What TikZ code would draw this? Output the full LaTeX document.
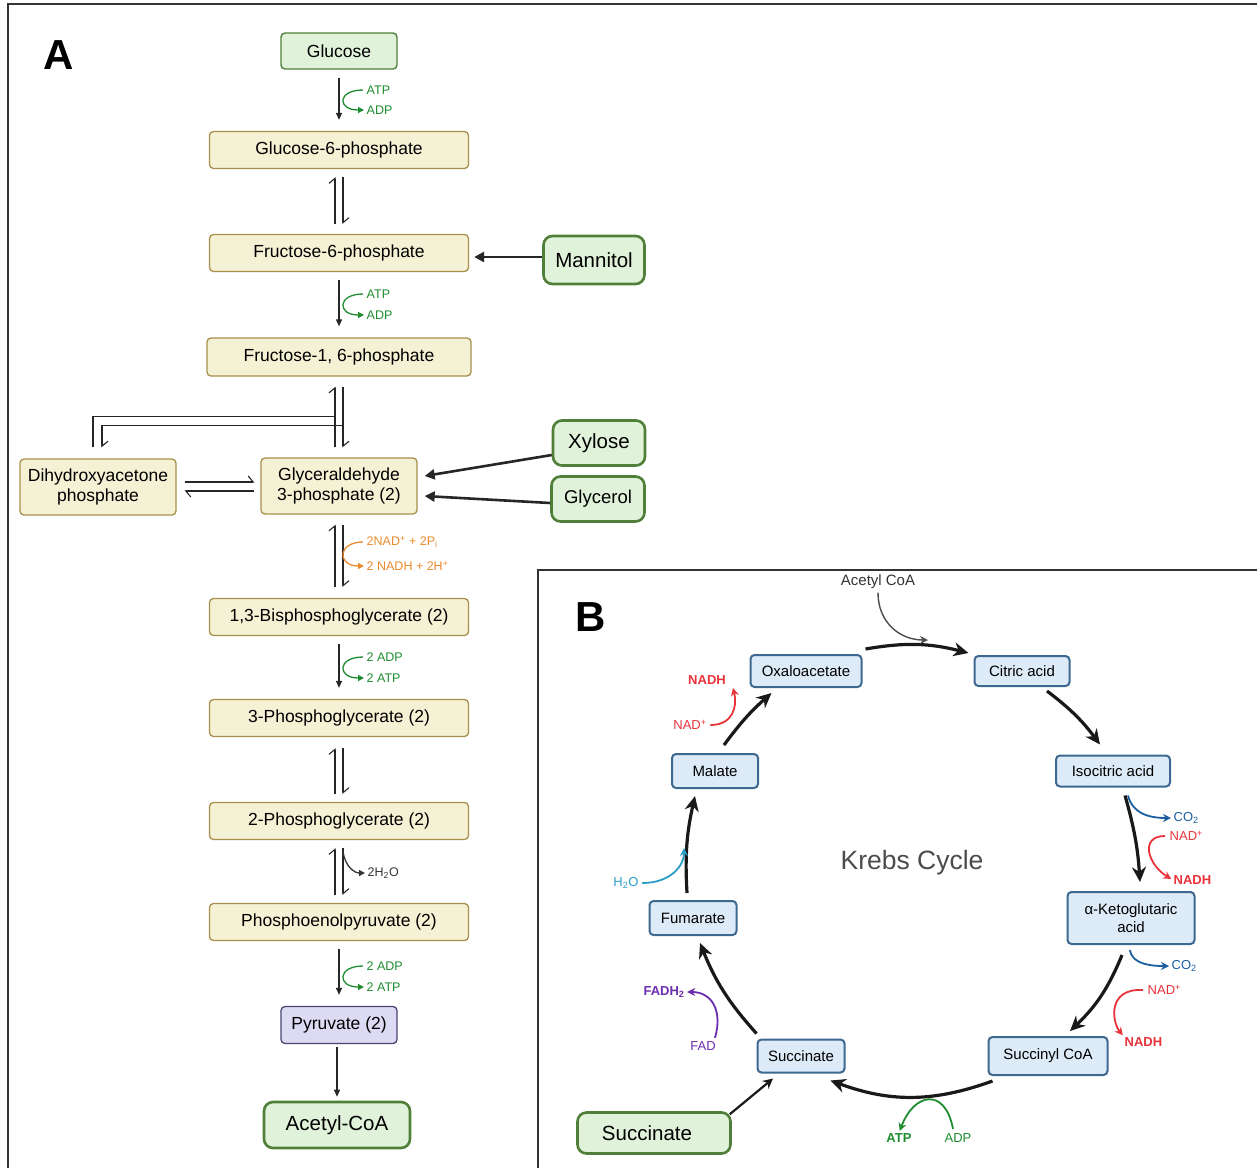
\documentclass[tikz,border=0pt]{standalone}
\usepackage{fontspec}
\setmainfont{Liberation Sans}
\usepackage{xcolor}
\usetikzlibrary{arrows.meta}

\definecolor{gfill}{HTML}{E0F2DA}
\definecolor{gline}{HTML}{4F7F38}
\definecolor{yfill}{HTML}{F5F1D4}
\definecolor{yline}{HTML}{A8904C}
\definecolor{pfill}{HTML}{DDDBF3}
\definecolor{pline}{HTML}{4A4470}
\definecolor{bfill}{HTML}{DDEAF7}
\definecolor{bline}{HTML}{3D6890}
\definecolor{atpgreen}{HTML}{1E8C2F}
\definecolor{nadorange}{HTML}{EA8A2C}
\definecolor{nadred}{HTML}{E8333B}
\definecolor{coblue}{HTML}{1B5EA0}
\definecolor{waterteal}{HTML}{2A9CC5}
\definecolor{fadpurple}{HTML}{6B2EAE}
\definecolor{framegray}{HTML}{333333}

\tikzset{
  box/.style={rounded corners=4pt, inner sep=0pt, align=center, font=\fontsize{17.5}{20}\selectfont},
  glcbox/.style={box, fill=gfill, draw=gline, line width=1.4pt},
  sugbox/.style={box, fill=gfill, draw=gline, line width=2.6pt, rounded corners=9pt, font=\fontsize{20.5}{24}\selectfont},
  intbox/.style={box, fill=yfill, draw=yline, line width=1.3pt, minimum width=259pt, minimum height=37pt},
  pyrbox/.style={box, fill=pfill, draw=pline, line width=1.3pt},
  krebsbox/.style={box, fill=bfill, draw=bline, line width=2pt, font=\fontsize{15}{18}\selectfont},
  cof/.style={inner sep=0.5pt, anchor=west, font=\fontsize{12.5}{14}\selectfont},
  kcof/.style={inner sep=0.5pt, font=\fontsize{13}{15}\selectfont},
  rxn/.style={draw=black!85, line width=1.1pt, -{Triangle[length=7pt,width=6pt]}, shorten <=8pt, shorten >=11pt},
  eqarr/.style={draw=black!85, line width=1.1pt, -{Straight Barb[harpoon,length=5pt,width=12pt]}},
  cofarr/.style={line width=1.3pt, -{Triangle[length=6pt,width=6pt]}, shorten <=3pt, shorten >=2pt},
  feed/.style={draw=black!85, line width=2.6pt, -{Triangle[length=10pt,width=10pt]}},
  cyc/.style={draw=black!90, line width=3.2pt, -{Stealth[length=15pt,width=14pt]}},
  kside/.style={line width=1.8pt, -{Stealth[length=8pt,width=8pt]}, shorten >=2pt},
  panel/.style={font=\fontsize{42}{44}\selectfont\bfseries}
}

\begin{document}
\begin{tikzpicture}[x=1pt, y=-1pt]
    \useasboundingbox (0,0) rectangle (1257,1168);

    % Frames
    \draw[framegray, line width=1.5pt] (1257,4) -- (8,4) -- (8,1168);
    \draw[framegray, line width=1.5pt] (1257,570) -- (538,570) -- (538,1168);

    % Glycolysis
    \node[panel] (labA) at (59,55) {A};
    \node[glcbox, minimum width=116pt, minimum height=36pt] (glc) at (339,51) {Glucose};
    \node[intbox] (g6p) at (339,150) {Glucose-6-phosphate};
    \node[intbox] (f6p) at (339,253) {Fructose-6-phosphate};
    \node[sugbox, minimum width=101pt, minimum height=48pt] (man) at (594,260) {Mannitol};
    \node[intbox, minimum width=264pt, minimum height=38pt] (fbp) at (339,357) {Fructose-1, 6-phosphate};
    \node[intbox, minimum width=156pt, minimum height=56pt] (dhap) at (98,487) {Dihydroxyacetone\\phosphate};
    \node[intbox, minimum width=156pt, minimum height=56pt] (gap) at (339,486) {Glyceraldehyde\\3-phosphate (2)};
    \node[sugbox, minimum width=92pt, minimum height=45pt] (xyl) at (599,443) {Xylose};
    \node[sugbox, minimum width=93pt, minimum height=45pt, font=\fontsize{18.5}{22}\selectfont] (gly) at (598,499) {Glycerol};
    \node[intbox] (bpg) at (339,617) {1,3-Bisphosphoglycerate (2)};
    \node[intbox] (pgc) at (339,718) {3-Phosphoglycerate (2)};
    \node[intbox] (pgb) at (339,821) {2-Phosphoglycerate (2)};
    \node[intbox] (pep) at (339,922) {Phosphoenolpyruvate (2)};
    \node[pyrbox, minimum width=116pt, minimum height=37pt] (pyr) at (339,1025) {Pyruvate (2)};
    \node[sugbox, minimum width=146pt, minimum height=46pt] (acoa) at (337,1125) {Acetyl-CoA};

    % cofactors, glycolysis
    \node[cof, text=atpgreen] (atpa) at (366,90) {ATP};
    \node[cof, text=atpgreen] (adpa) at (366,110) {ADP};
    \node[cof, text=atpgreen] (atpb) at (366,294) {ATP};
    \node[cof, text=atpgreen] (adpb) at (366,315) {ADP};
    \node[cof, text=nadorange] (nadp) at (366,542) {2NAD\textsuperscript{+} + 2P\textsubscript{i}};
    \node[cof, text=nadorange] (nadh) at (366,566) {2 NADH + 2H\textsuperscript{+}};
    \node[cof, text=atpgreen] (adpc) at (366,657) {2 ADP};
    \node[cof, text=atpgreen] (atpc) at (366,678) {2 ATP};
    \node[cof, text=black!80] (water) at (367,873) {2H\textsubscript{2}O};
    \node[cof, text=atpgreen] (adpd) at (366,966) {2 ADP};
    \node[cof, text=atpgreen] (atpd) at (366,987) {2 ATP};

    % one-way steps
    \draw[rxn] (glc) -- (g6p);
    \draw[rxn] (f6p) -- (fbp);
    \draw[rxn] (bpg) -- (pgc);
    \draw[rxn] (pep) -- (pyr);
    \draw[rxn, shorten <=3pt, shorten >=4pt] ([xshift=-2pt]pyr.south) -- (acoa.north);
    \draw[cofarr, atpgreen] (atpa.west) .. controls +(-29,0) and +(-29,0) .. (adpa.west);
    \draw[cofarr, atpgreen] (atpb.west) .. controls +(-29,0) and +(-29,0) .. (adpb.west);
    \draw[cofarr, atpgreen] (adpc.west) .. controls +(-29,0) and +(-29,0) .. (atpc.west);
    \draw[cofarr, atpgreen] (adpd.west) .. controls +(-29,0) and +(-29,0) .. (atpd.west);

    % reversible steps
    \draw[eqarr, shorten <=10pt, shorten >=8pt] ([xshift=-4pt]f6p.north) -- ([xshift=-4pt]g6p.south);
    \draw[eqarr, shorten <=8pt, shorten >=10pt] ([xshift=4pt]g6p.south) -- ([xshift=4pt]f6p.north);
    \draw[eqarr, shorten <=10pt, shorten >=10pt] ([xshift=-4pt]gap.north) -- ([xshift=-4pt]fbp.south);
    \draw[eqarr, shorten <=10pt, shorten >=10pt] ([xshift=4pt]fbp.south) -- ([xshift=4pt]gap.north);
    \draw[draw=black!85, line width=1.1pt] ([xshift=-5pt,yshift=11pt]dhap.north) |- ([xshift=-4pt,yshift=-40pt]fbp.south);
    \draw[eqarr] ([xshift=4pt,yshift=-49pt]fbp.south) -| ([xshift=4pt,yshift=11pt]dhap.north);
    \draw[eqarr, shorten <=8pt, shorten >=6pt] ([yshift=5pt]dhap.east) -- ([yshift=5pt]dhap.east -| gap.west);
    \draw[eqarr, shorten <=6pt, shorten >=8pt] ([yshift=-4pt]dhap.east -| gap.west) -- ([yshift=-4pt]dhap.east);
    \draw[eqarr, shorten <=11pt, shorten >=10pt] ([xshift=-4pt]bpg.north) -- ([xshift=-4pt]gap.south);
    \draw[eqarr, shorten <=10pt, shorten >=11pt] ([xshift=4pt]gap.south) -- ([xshift=4pt]bpg.north);
    \draw[cofarr, nadorange] (nadp.west) .. controls +(-29,0) and +(-29,0) .. (nadh.west);
    \draw[eqarr, shorten <=8pt, shorten >=11pt] ([xshift=-4pt]pgb.north) -- ([xshift=-4pt]pgc.south);
    \draw[eqarr, shorten <=11pt, shorten >=8pt] ([xshift=4pt]pgc.south) -- ([xshift=4pt]pgb.north);
    \draw[eqarr, shorten <=8pt, shorten >=8pt] ([xshift=-4pt]pep.north) -- ([xshift=-4pt]pgb.south);
    \draw[eqarr, shorten <=8pt, shorten >=8pt] ([xshift=4pt]pgb.south) -- ([xshift=4pt]pep.north);
    \draw[cofarr, black!80, shorten <=0pt] ([xshift=4pt,yshift=-11pt]pgb.south) .. controls +(2,16) and +(-12,0) .. (water.west);

    % feeding sugars
    \draw[feed, shorten >=5pt] ([yshift=3pt]man.west) -- ([yshift=3pt]man.west -| f6p.east);
    \draw[feed] ([yshift=-12pt]xyl.west) -- ([xshift=7pt,yshift=10pt]gap.east);
    \draw[feed] ([yshift=-4pt]gly.west) -- ([xshift=7pt,yshift=-10pt]gap.east);

    % Krebs cycle
    \node[panel] (labB) at (591,617) {B};
    \node[font=\fontsize{26.5}{30}\selectfont, text=black!70] (kc) at (912,863) {Krebs Cycle};
    \node[krebsbox, minimum width=111pt, minimum height=32pt] (oaa) at (806,671) {Oxaloacetate};
    \node[krebsbox, minimum width=95pt, minimum height=30pt] (cit) at (1022,671) {Citric acid};
    \node[krebsbox, minimum width=114pt, minimum height=31pt] (iso) at (1113,771) {Isocitric acid};
    \node[krebsbox, minimum width=127pt, minimum height=52pt] (akg) at (1131,918) {α-Ketoglutaric\\acid};
    \node[krebsbox, minimum width=119pt, minimum height=38pt] (sca) at (1048,1056) {Succinyl CoA};
    \node[krebsbox, minimum width=87pt, minimum height=33pt] (suc) at (801,1056) {Succinate};
    \node[krebsbox, minimum width=87pt, minimum height=34pt] (fum) at (693,918) {Fumarate};
    \node[krebsbox, minimum width=86pt, minimum height=34pt] (mal) at (715,771) {Malate};
    \node[sugbox, minimum width=153pt, minimum height=41pt] (sucg) at (654,1133) {\hspace{-14pt}Succinate};

    % cofactors, Krebs
    \node[kcof, text=black!80, font=\fontsize{15}{17}\selectfont] (acl) at (878,582) {Acetyl CoA};
    \node[kcof, anchor=west, text=coblue] (coa) at (1173,818) {CO\textsubscript{2}};
    \node[kcof, anchor=west, text=nadred] (nada) at (1169,836) {NAD\textsuperscript{+}};
    \node[kcof, anchor=west, text=nadred, font=\fontsize{13}{15}\selectfont\bfseries] (nadha) at (1173,880) {NADH};
    \node[kcof, anchor=west, text=coblue] (cob) at (1171,966) {CO\textsubscript{2}};
    \node[kcof, anchor=west, text=nadred] (nadb) at (1147,990) {NAD\textsuperscript{+}};
    \node[kcof, anchor=west, text=nadred, font=\fontsize{13}{15}\selectfont\bfseries] (nadhb) at (1124,1042) {NADH};
    \node[kcof, text=atpgreen, font=\fontsize{13}{15}\selectfont\bfseries] (atpk) at (899,1138) {ATP};
    \node[kcof, text=atpgreen] (adpk) at (958,1138) {ADP};
    \node[kcof, text=fadpurple] (fad) at (703,1046) {FAD};
    \node[kcof, text=fadpurple, font=\fontsize{13}{15}\selectfont\bfseries] (fadh) at (664,992) {FADH\textsubscript{2}};
    \node[kcof, text=waterteal] (h2o) at (626,883) {H\textsubscript{2}O};
    \node[kcof, text=nadred] (nadc) at (690,725) {NAD\textsuperscript{+}};
    \node[kcof, text=nadred, font=\fontsize{13}{15}\selectfont\bfseries] (nadhc) at (707,680) {NADH};
    \coordinate (acin) at (930,640);
    \coordinate (h2oin) at (684,846);

    % cycle steps
    \draw[cyc] ([shift={(3,-5)}]oaa.north east) to[bend left=12] ([shift={(-5,-2)}]cit.north west);
    \draw[cyc] ([shift={(25,4)}]cit.south) to[bend left=8] ([shift={(-13,-10)}]iso.north);
    \draw[cyc] ([shift={(12,8)}]iso.south) to[bend left=6] ([shift={(9,-9)}]akg.north);
    \draw[cyc] ([shift={(-9,10)}]akg.south) to[bend left=12] ([shift={(22,-5)}]sca.north);
    \draw[cyc] ([shift={(5,5)}]sca.south west) to[bend left=20] ([shift={(-15,7)}]suc.south east);
    \draw[cyc] ([shift={(0,-5)}]suc.north west) to[bend left=10] ([shift={(7,7)}]fum.south);
    \draw[cyc] ([shift={(-6,-7)}]fum.north) to[bend left=8] ([shift={(-20,7)}]mal.south);
    \draw[cyc] ([shift={(9,-8)}]mal.north) to[bend left=6] ([shift={(22,5)}]oaa.south west);
    \draw[cyc, line width=2.2pt, -{Stealth[length=10pt,width=10pt]}] ([shift={(-2,3)}]sucg.north east) -- ([shift={(-28,5)}]suc.south);

    % side reactions
    \draw[kside, black!70, line width=1.4pt] ([yshift=-3pt]acl.south) .. controls +(0,30) and +(-30,0) .. (acin);
    \draw[kside, coblue] ([shift={(15,8)}]iso.south) .. controls +(5,20) and +(-20,0) .. (coa.west);
    \draw[kside, nadred] ([xshift=-4pt]nada.west) .. controls +(-26,0) and +(-25,-15) .. (nadha.west);
    \draw[kside, coblue] ([shift={(-1,5)}]akg.south) .. controls +(2,15) and +(-18,0) .. (cob.west);
    \draw[kside, nadred] ([xshift=-4pt]nadb.west) .. controls +(-36,-2) and +(-12,-15) .. (nadhb.north west);
    \draw[kside, atpgreen] ([shift={(-5,-4)}]adpk.north) .. controls +(-8,-42) and +(15,-40) .. (atpk.north);
    \draw[kside, fadpurple] ([shift={(12,-3)}]fad.north) .. controls +(8,-28) and +(26,0) .. (fadh.east);
    \draw[kside, waterteal] ([xshift=3pt]h2o.east) .. controls +(28,0) and +(0,20) .. (h2oin);
    \draw[kside, nadred] ([xshift=3pt]nadc.east) .. controls +(23,0) and +(5,20) .. ([shift={(6,6)}]nadhc.east);
\end{tikzpicture}
\end{document}
